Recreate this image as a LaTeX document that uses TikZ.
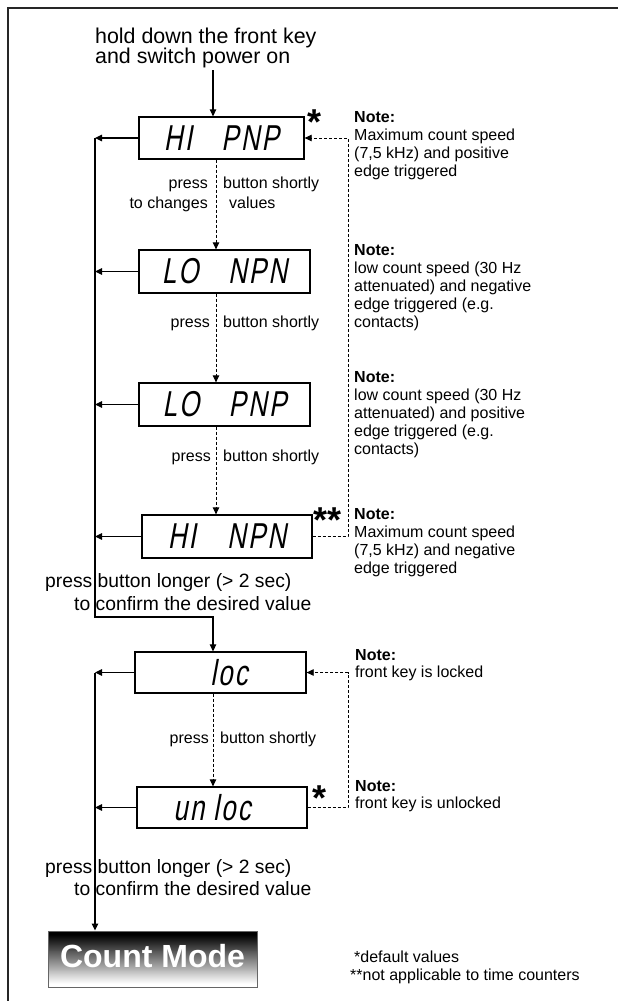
\documentclass[tikz,border=0pt]{standalone}
\usepackage{fontspec}
\setmainfont{Liberation Sans}
\newfontfamily\lcd[FakeStretch=0.72,FakeSlant=0.18,LetterSpace=6]{Liberation Sans}
\usetikzlibrary{arrows.meta}
\newcommand{\vlines}[2]{\vtop{\baselineskip=#1\relax\lineskiplimit=-100pt\halign{##\hfil\cr#2\crcr}}}
\begin{document}
\begin{tikzpicture}[x=1pt,y=-1pt,
  lcdbox/.style={draw, line width=1.3pt, inner sep=0pt, font=\fontsize{36}{36}\selectfont\lcd},
  txt/.style={inner sep=0pt, font=\fontsize{16}{18}\selectfont},
  big/.style={inner sep=0pt, font=\fontsize{19.3}{22}\selectfont},
  star/.style={inner sep=0pt, anchor=base, font=\fontsize{36}{36}\selectfont\bfseries},
  arr/.style={line width=1.2pt, -{Triangle[length=7pt,width=6.5pt]}},
  darr/.style={line width=0.8pt, dash pattern=on 3pt off 2pt, -{Triangle[length=7pt,width=6.5pt]}},
  sline/.style={line width=1.2pt}
]
\useasboundingbox (0,0) rectangle (618,1001);
% frame
\draw[line width=1.8pt, black!85] (8,1001) -- (8,8) -- (618,8);

% title
\node[anchor=base west, inner sep=0pt, font=\fontsize{21.4}{21}\selectfont] (title) at (95,43)
  {\vlines{20.5pt}{hold down the front key\cr and switch power on}};

% display boxes
\node[lcdbox, minimum width=165pt, minimum height=42pt] (b1) at (221.5,138) {HI\hspace{20pt} PNP};
\node[lcdbox, minimum width=171pt, minimum height=43pt] (b2) at (224.5,271.5) {LO\hspace{20pt} NPN};
\node[lcdbox, minimum width=171pt, minimum height=43pt] (b3) at (224.5,404.5) {LO\hspace{20pt} PNP};
\node[lcdbox, minimum width=170pt, minimum height=43pt] (b4) at (227,536.5) {HI\hspace{22pt} NPN};
\node[lcdbox, minimum width=171pt, minimum height=41pt] (b5) at (220.5,672.5) {\hspace*{17pt}loc};
\node[lcdbox, minimum width=170pt, minimum height=41pt] (b6) at (222,807.5) {un\hspace{9pt}loc\hspace*{20pt}};

% Count Mode gradient background (black at top to white at bottom)
\foreach \i in {0,...,55}{
  \pgfmathtruncatemacro{\p}{max(0,min(100,108-2.05*\i))}
  \fill[black!\p] (48,931+\i) rectangle (257,932.1+\i);
}
\node[draw=black!60, line width=1pt, minimum width=209pt,
  minimum height=56pt, inner sep=0pt, text=white, text depth=6pt,
  font=\fontsize{32}{32}\selectfont\bfseries] (cm) at (152.5,959) {Count Mode};

% stars
\node[star] (st1) at (315,134) {*};
\node[star] (st4) at (328,532) {**};
\node[star] (st6) at (320,810) {*};

% coordinates
\coordinate (tA) at (213,70);
\coordinate (L) at (95,0);
\coordinate (Lb) at (95,617);
\coordinate (Rb) at (213,617);
\coordinate (C) at (216,0);
\coordinate (C2) at (213,0);
\coordinate (R) at (348,0);

% solid connectors
\draw[arr] (tA) -- (tA |- b1.north);
\draw[arr] (b1.west) -- (b1.west -| L);
\draw[arr] (b2.west) -- (b2.west -| L);
\draw[arr] (b3.west) -- (b3.west -| L);
\draw[arr] (b4.west) -- (b4.west -| L);
\draw[arr] (b1.west -| L) -- (Lb) -- (Rb) -- (Rb |- b5.north);
\draw[arr] (b5.west) -- (b5.west -| L);
\draw[arr] (b6.west) -- (b6.west -| L);
\draw[arr] (b5.west -| L) -- (L |- cm.north);

% dashed connectors
\draw[darr] (C |- b1.south) -- (C |- b2.north);
\draw[darr] (C |- b2.south) -- (C |- b3.north);
\draw[darr] (C |- b3.south) -- (C |- b4.north);
\draw[darr] (C2 |- b5.south) -- (C2 |- b6.north);
\draw[darr] (b4.east) -- (b4.east -| R) -- (b1.east -| R) -- (b1.east);
\draw[darr] (b6.east) -- (b6.east -| R) -- (b5.east -| R) -- (b5.east);

% step labels
\node[txt, anchor=base east] (p1) at (208,188) {press};
\node[txt, anchor=base east] (p1b) at (208,208) {to changes};
\node[txt, anchor=base west] (s1) at (223,188) {button shortly};
\node[txt, anchor=base west] (s1b) at (229,208) {values};
\node[txt, anchor=base east] (p2) at (210,327) {press};
\node[txt, anchor=base west] (s2) at (223,327) {button shortly};
\node[txt, anchor=base east] (p3) at (211,461) {press};
\node[txt, anchor=base west] (s3) at (223,461) {button shortly};
\node[txt, anchor=base east] (p5) at (209,743) {press};
\node[txt, anchor=base west] (s5) at (220,743) {button shortly};

\node[big, anchor=base west] (c1a) at (45,587) {press button longer (> 2 sec)};
\node[big, anchor=base west] (c1b) at (74,610) {to confirm the desired value};
\node[big, anchor=base west] (c2a) at (45,873) {press button longer (> 2 sec)};
\node[big, anchor=base west] (c2b) at (74,895) {to confirm the desired value};

% notes
\node[txt, anchor=base west] (n1) at (354,122.5) {\vlines{18pt}{\textbf{Note:}\cr Maximum count speed\cr (7,5 kHz) and positive\cr edge triggered}};
\node[txt, anchor=base west] (n2) at (354,255) {\vlines{18pt}{\textbf{Note:}\cr low count speed (30 Hz\cr attenuated) and negative\cr edge triggered (e.g.\cr contacts)}};
\node[txt, anchor=base west] (n3) at (354,382) {\vlines{18pt}{\textbf{Note:}\cr low count speed (30 Hz\cr attenuated) and positive\cr edge triggered (e.g.\cr contacts)}};
\node[txt, anchor=base west] (n4) at (354,519) {\vlines{18pt}{\textbf{Note:}\cr Maximum count speed\cr (7,5 kHz) and negative\cr edge triggered}};
\node[txt, anchor=base west] (n5) at (355,660) {\vlines{17.5pt}{\textbf{Note:}\cr front key is locked}};
\node[txt, anchor=base west] (n6) at (355,791) {\vlines{17.5pt}{\textbf{Note:}\cr front key is unlocked}};

% footnotes
\node[txt, anchor=base west] (f1) at (354,962) {*default values};
\node[txt, anchor=base west] (f2) at (350,980) {**not applicable to time counters};
\end{tikzpicture}
\end{document}
